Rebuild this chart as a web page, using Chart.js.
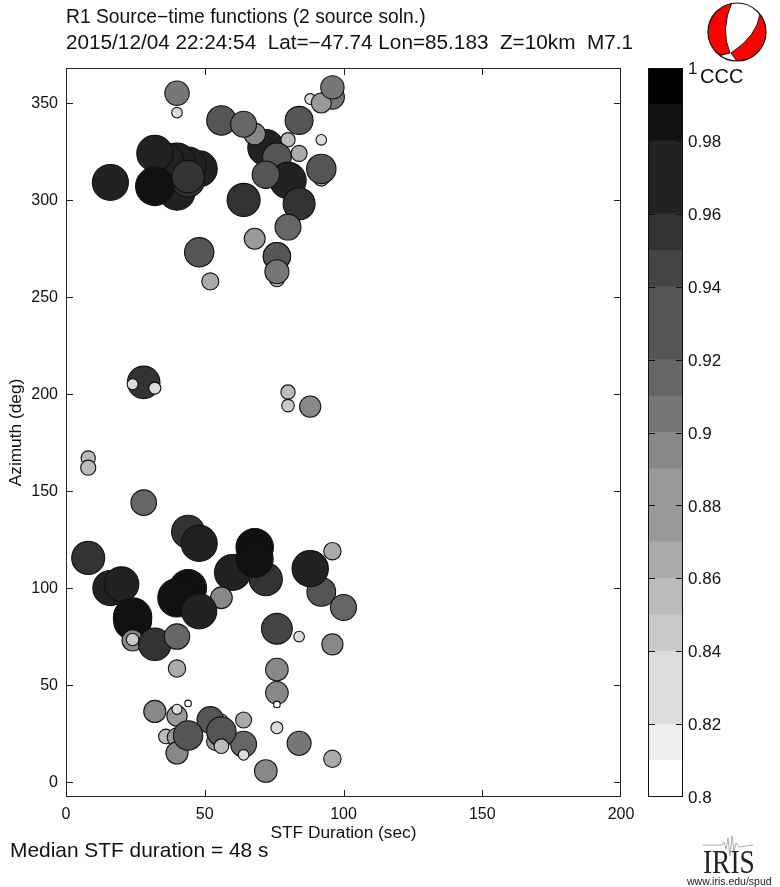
<!DOCTYPE html>
<html><head><meta charset="utf-8">
<script src="https://cdn.jsdelivr.net/npm/chart.js@4"></script>
<style>
html,body{margin:0;padding:0;background:#fff;width:780px;height:887px;overflow:hidden}
canvas{position:absolute;left:0;top:0}
.t{position:absolute;white-space:pre;font-family:"Liberation Sans",sans-serif;color:#111;line-height:1;transform-origin:left top}
</style></head><body>
<canvas id="main" width="780" height="887"></canvas>
<canvas id="bar" width="780" height="887"></canvas>
<div class="t" style="left:66px;top:7px;font-size:19.3px">R1 Source−time functions (2 source soln.)</div>
<div class="t" style="left:66px;top:33px;font-size:19.3px;transform:scaleX(1.075)">2015/12/04 22:24:54  Lat=−47.74 Lon=85.183  Z=10km  M7.1</div>
<div class="t" style="left:10px;top:840px;font-size:20.9px">Median STF duration = 48 s</div>
<div class="t" style="left:700px;top:66px;font-size:20px">CCC</div>
<div class="t" id="irisw" style="left:703px;top:846px;font-family:'Liberation Serif',serif;font-size:33px;color:#222;transform:scaleX(.83)">IRIS</div>
<div class="t" style="left:687px;top:876px;font-size:10.5px;color:#222">www.iris.edu/spud</div>
<script>
// Source-time function measurements, back-to-front
const durations = [
 40,40,48,52,72,72,68,56,64,80,84,76,84,92,88,96,92,96,92,92,80,76,72,84,80,68,76,76,76,64,
 48,44,40,36,40,44,16,32,32,44,
 28,24,32,80,80,88,8,8,28,
 44,48,8,68,72,60,68,92,100,88,96,16,20,56,44,40,48,24,24,24,32,40,24,76,84,96,76,40,76,76,44,
 32,40,40,56,52,64,76,84,54,64,64,56,56,36,40,40,44,72,96];
const azimuths = [
 345,355,273,258,333,327,334,341,339,331,324,322,341,331,352,353,350,358,311,316,310,271,313,298,286,280,259,271,263,300,
 316,318,320,320,304,310,309,324,307,312,
 206,205,203,201,194,193.5,167,162,144,
 129,123,115.5,121,104.5,108,115,98,90,110,119,100,102,95,100,95,88,83,85,73,71,75,73.5,79,75,71,58,58.5,46,40,40.5,
 36.4,34,37.5,32,32,32,28,20,21,19.5,14,26,18.5,23.5,23,15,24,5.7,12];
const cccValues = [
 .829,.908,.937,.866,.837,.975,.893,.937,.917,.85,.86,.933,.929,.829,.83,.906,.883,.902,.855,.937,.977,.925,.925,.952,.917,.888,.852,.925,.906,.958,
 .975,.975,.975,.975,.975,.958,.975,.975,.989,.955,
 .955,.831,.837,.85,.84,.89,.85,.855,.915,
 .958,.975,.958,.983,.958,.975,.98,.933,.917,.977,.868,.97,.967,.893,.98,.989,.97,.985,.989,.89,.955,.914,.84,.945,.829,.89,.898,.868,.898,.806,.806,
 .895,.885,.826,.837,.921,.86,.837,.906,.875,.917,.829,.937,.852,.852,.88,.895,.937,.898,.868];
const xTicks = [0,50,100,150,200];
const yTicks = [0,50,100,150,200,250,300,350];
const cbTicks = [0.8,0.82,0.84,0.86,0.88,0.9,0.92,0.94,0.96,0.98,1];
const bandEdges = [.8,.81,.82,.83,.84,.85,.86,.87,.88,.89,.9,.91,.92,.93,.94,.95,.96,.97,.98,.99,1];
const bandGrays = ['#ffffff','#eeeeee','#dcdcdc','#dcdcdc','#cacaca','#bbbbbb','#aaaaaa','#999999','#999999','#888888',
 '#777777','#666666','#555555','#555555','#444444','#333333','#222222','#222222','#111111','#000000'];

const fontFam = '"Liberation Sans", sans-serif';
const gray = c => bandGrays[Math.max(0,Math.min(19,Math.floor((c-.8)/.01+1e-6)))];
const rad = c => 3.3 + 87*(c-.806);
const points = durations.map((d,i)=>({x:d,y:azimuths[i],c:cccValues[i]}));

const frame = {
 id:'frame',
 beforeDatasetsDraw(ch){
  const {ctx,chartArea:a,scales:{x,y}} = ch;
  ctx.save(); ctx.strokeStyle='#222'; ctx.lineWidth=1; ctx.beginPath();
  xTicks.slice(1,-1).forEach(v=>{const p=Math.round(x.getPixelForValue(v))+.5;
    ctx.moveTo(p,a.bottom);ctx.lineTo(p,a.bottom-7);ctx.moveTo(p,a.top);ctx.lineTo(p,a.top+7);});
  yTicks.forEach(v=>{const p=Math.round(y.getPixelForValue(v))+.5;
    ctx.moveTo(a.left,p);ctx.lineTo(a.left+7,p);ctx.moveTo(a.right,p);ctx.lineTo(a.right-7,p);});
  ctx.stroke();
  ctx.strokeRect(a.left+.5,a.top+.5,a.right-a.left-1,a.bottom-a.top-1);
  ctx.restore();
 },
 afterDraw(ch){
  const ctx=ch.ctx;
  // focal mechanism
  const cx=737,cy=32,r=29;
  ctx.save();
  ctx.beginPath();ctx.arc(cx,cy,r,0,Math.PI*2);ctx.fillStyle='#fff';ctx.fill();
  ctx.save();ctx.beginPath();ctx.arc(cx,cy,r,0,Math.PI*2);ctx.clip();
  ctx.fillStyle='#f00';
  ctx.beginPath();ctx.moveTo(732,2);ctx.quadraticCurveTo(720,30,730,53);ctx.lineTo(715,58);ctx.lineTo(700,40);ctx.lineTo(700,5);ctx.closePath();ctx.fill();
  ctx.beginPath();ctx.moveTo(760,14);ctx.quadraticCurveTo(757,36,731,53);ctx.lineTo(737,62);ctx.lineTo(770,62);ctx.lineTo(770,14);ctx.closePath();ctx.fill();
  ctx.strokeStyle='#111';ctx.lineWidth=1;
  ctx.beginPath();ctx.moveTo(732,2);ctx.quadraticCurveTo(720,30,730,53);ctx.stroke();
  ctx.beginPath();ctx.moveTo(760,14);ctx.quadraticCurveTo(757,36,731,53);ctx.lineTo(737,61);ctx.stroke();
  ctx.beginPath();ctx.moveTo(730,53);ctx.lineTo(716,56);ctx.stroke();
  ctx.restore();
  ctx.beginPath();ctx.arc(cx,cy,r,0,Math.PI*2);ctx.strokeStyle='#111';ctx.lineWidth=1.2;ctx.stroke();
  // logo waveform
  ctx.strokeStyle='#aaa';ctx.lineWidth=1;ctx.beginPath();
  ctx.moveTo(703,845);ctx.lineTo(722,845);ctx.lineTo(724,842);ctx.lineTo(726,849);ctx.lineTo(728,838);ctx.lineTo(730,856);ctx.lineTo(732,836);ctx.lineTo(734,851);ctx.lineTo(736,843);ctx.lineTo(739,847);ctx.lineTo(753,845);ctx.stroke();
  ctx.restore();
 }
};

new Chart(document.getElementById('main'),{
 type:'bubble',
 data:{datasets:[{data:points,
   backgroundColor:c=>gray(c.raw.c),
   borderColor:'#111',borderWidth:1.1,
   radius:c=>rad(c.raw.c),hoverRadius:c=>rad(c.raw.c)}]},
 plugins:[frame],
 options:{responsive:false,animation:false,
  layout:{padding:{top:68,right:159,left:0,bottom:0}},
  plugins:{legend:{display:false},tooltip:{enabled:false}},
  scales:{
   x:{type:'linear',min:0,max:200,grid:{display:false},border:{display:false},
     afterBuildTicks:s=>{s.ticks=xTicks.map(v=>({value:v}))},
     afterFit:s=>{s.height=90},
     ticks:{maxRotation:0,padding:0,color:'#111',font:{family:fontFam,size:16},autoSkip:false},
     title:{display:true,text:'STF Duration (sec)',color:'#111',font:{family:fontFam,size:17.3},padding:{top:0,bottom:43}}},
   y:{type:'linear',min:-7.7,max:368,grid:{display:false},border:{display:false},
     afterBuildTicks:s=>{s.ticks=yTicks.map(v=>({value:v}))},
     afterFit:s=>{s.width=66},
     ticks:{padding:0,labelOffset:1,color:'#111',font:{family:fontFam,size:16},autoSkip:false},
     title:{display:true,text:'Azimuth (deg)',color:'#111',font:{family:fontFam,size:17.3},padding:{top:6,bottom:0}}}
  }}
});

const cbFrame = {
 id:'cbFrame',
 afterDatasetsDraw(ch){
  const {ctx,chartArea:a,scales:{y}} = ch;
  ctx.save();ctx.strokeStyle='#111';ctx.lineWidth=1;ctx.beginPath();
  cbTicks.slice(1,-1).forEach(v=>{const p=Math.round(y.getPixelForValue(v))+.5;
    ctx.moveTo(a.left,p);ctx.lineTo(a.left+7,p);ctx.moveTo(a.right,p);ctx.lineTo(a.right-7,p);});
  ctx.stroke();
  ctx.strokeRect(a.left+.5,a.top+.5,a.right-a.left-1,a.bottom-a.top-1);
  ctx.restore();
 }
};
new Chart(document.getElementById('bar'),{
 type:'bar',
 data:{labels:['CCC'],datasets:bandGrays.map((g,i)=>({
   data:[[bandEdges[i],bandEdges[i+1]]],backgroundColor:g,borderWidth:0,
   barPercentage:1,categoryPercentage:1,grouped:false}))},
 plugins:[cbFrame],
 options:{responsive:false,animation:false,
  layout:{padding:{top:68,right:0,left:648,bottom:90}},
  plugins:{legend:{display:false},tooltip:{enabled:false}},
  scales:{
   x:{display:false},
   y:{position:'right',min:.8,max:1,grid:{display:false,drawTicks:false},border:{display:false},
     afterBuildTicks:s=>{s.ticks=cbTicks.map(v=>({value:v}))},
     afterFit:s=>{s.width=97},
     ticks:{padding:5,labelOffset:1.5,color:'#111',font:{family:fontFam,size:17},autoSkip:false,
       callback:v=>String(+v.toFixed(2))}}
  }}
});
</script>
</body></html>
